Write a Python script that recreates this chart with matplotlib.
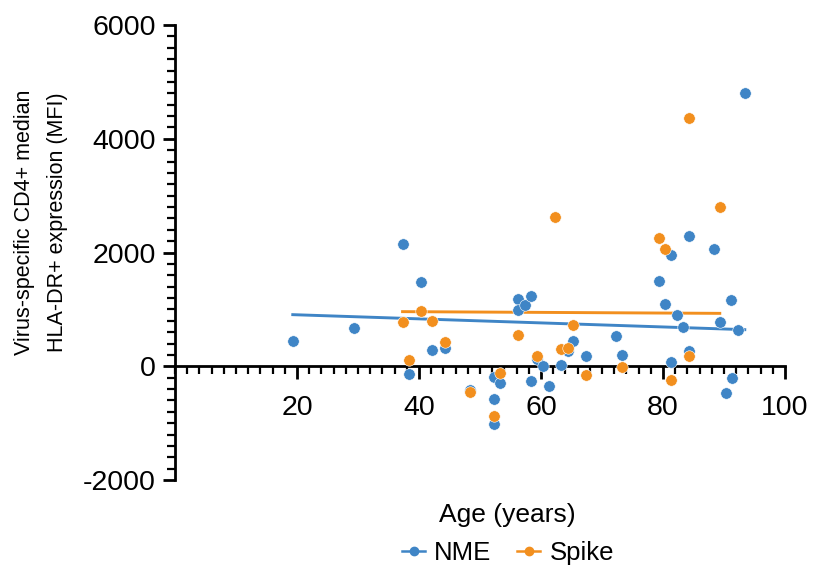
import numpy as np
import matplotlib
matplotlib.use("Agg")
import matplotlib.pyplot as plt
from matplotlib.ticker import MultipleLocator
from matplotlib.lines import Line2D

plt.rcParams['font.family'] = ['Liberation Sans', 'DejaVu Sans']
plt.rcParams['axes.unicode_minus'] = False

# NME responses (age, MFI)
nme_age = [19.3, 29.3, 37.3, 40.3, 42.2, 44.3, 38.3, 48.3, 52.3, 53.3, 52.3, 52.3,
           56.3, 56.3, 57.3, 58.3, 58.3, 59.3, 60.3, 61.3, 63.3, 64.4, 65.3, 67.3,
           72.3, 73.3, 79.4, 80.3, 81.3, 81.3, 82.3, 83.3, 84.3, 84.3, 88.3, 89.3,
           90.3, 91.2, 91.3, 92.3, 93.4]
nme_mfi = [439, 673, 2158, 1474, 292, 322, -140, -409, -193, -292, -573, -1018,
           1181, 994, 1082, 1234, -251, 135, 0, -345, 17, 263, 439, 187,
           538, 205, 1503, 1094, 1953, 76, 901, 696, 2293, 263, 2058, 784,
           -468, 1158, -199, 643, 4807]

# Spike responses (age, MFI)
spike_age = [37.3, 40.3, 42.2, 44.3, 38.3, 48.3, 53.3, 52.3, 56.3, 59.3, 62.3,
             63.3, 64.4, 65.3, 67.3, 73.3, 79.4, 80.3, 81.3, 84.3, 84.3, 89.3]
spike_mfi = [772, 971, 801, 427, 117, -450, -111, -871, 556, 175, 2620,
             298, 327, 719, -158, -12, 2263, 2058, -234, 4357, 181, 2807]

# linear trend lines: slope, intercept, age range
nme_fit = (-3.56, 976, 19.3, 93.4)
spike_fit = (-0.58, 982, 37.3, 89.3)

blue = '#3F85C6'
orange = '#F28F1E'

fig = plt.figure(figsize=(8.13, 5.75), dpi=100)
ax = fig.add_axes([0.2153, 0.1652, 0.7503, 0.7913])

for (s, b, x0, x1), c in [(nme_fit, blue), (spike_fit, orange)]:
    xs = np.array([x0, x1])
    ax.plot(xs, s * xs + b, color=c, lw=2.1, zorder=2)

ax.scatter(nme_age, nme_mfi, s=68, color=blue, edgecolors='white', linewidths=0.4, zorder=3)
ax.scatter(spike_age, spike_mfi, s=68, color=orange, edgecolors='white', linewidths=0.4, zorder=3)

ax.set_xlim(0, 100)
ax.set_ylim(-2000, 6000)
ax.spines['top'].set_visible(False)
ax.spines['right'].set_visible(False)
ax.spines['bottom'].set_position(('data', 0))
ax.spines['left'].set_linewidth(2)
ax.spines['bottom'].set_linewidth(2)

ax.xaxis.set_minor_locator(MultipleLocator(2))
ax.yaxis.set_major_locator(MultipleLocator(2000))
ax.yaxis.set_minor_locator(MultipleLocator(200))
ax.set_xticks([20, 40, 60, 80, 100])
ax.set_xticklabels(['20', '40', '60', '80', '100'])

ax.tick_params(axis='y', which='major', length=9, width=2, labelsize=20.5, pad=5)
ax.tick_params(axis='y', which='minor', length=6, width=1.6)
ax.tick_params(axis='x', which='major', length=9, width=2, labelsize=20.5, pad=12)
ax.tick_params(axis='x', which='minor', length=6, width=1.6)

fig.text(41 / 813, 1 - 222 / 575,
         'Virus-specific CD4+ median\nHLA-DR+ expression (MFI)',
         rotation=90, ha='center', va='center', fontsize=15.5, linespacing=1.75)
fig.text(507 / 813, 1 - 515 / 575, 'Age (years)', ha='center', va='center', fontsize=19)

handles = [Line2D([0], [0], color=blue, marker='o', markersize=6, lw=1.8),
           Line2D([0], [0], color=orange, marker='o', markersize=6, lw=1.8)]
fig.legend(handles, ['NME', 'Spike'], loc='center', bbox_to_anchor=(508 / 813, 1 - 553 / 575),
           ncol=2, frameon=False, fontsize=18.5, handlelength=0.9, handletextpad=0.35,
           columnspacing=1.0)

fig.savefig('out.png', dpi=100)
